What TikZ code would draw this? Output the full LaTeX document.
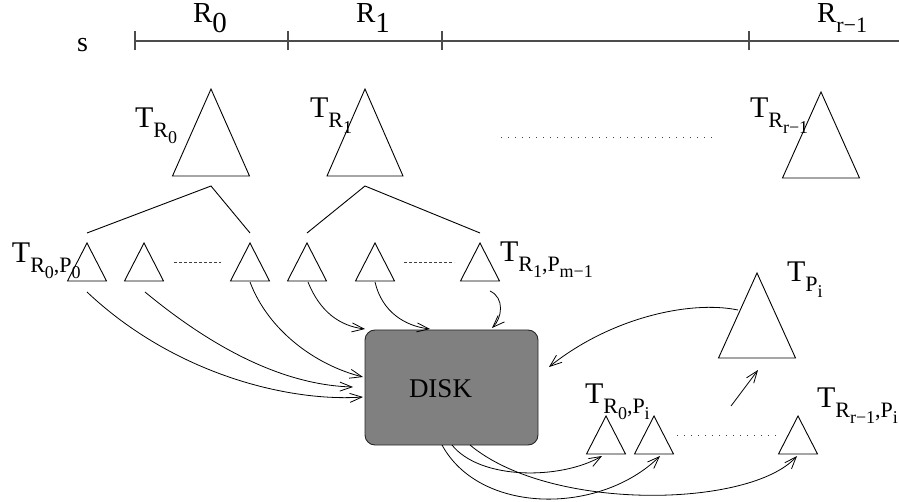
\documentclass[tikz,border=0pt]{standalone}
\usepackage{fontspec}
\setmainfont{Liberation Serif}
\usetikzlibrary{arrows.meta}

% label helpers: big letter with lowered subscript, and a further lowered sub-subscript
\newcommand\Tsub[2]{{\fontsize{30}{30}\selectfont #1}\raisebox{-10pt}{\fontsize{22}{22}\selectfont #2}}
\newcommand\lowsub[1]{\raisebox{-6pt}{\fontsize{18}{18}\selectfont #1}}
\newcommand\Rsub[2]{{\fontsize{29}{29}\selectfont R\raisebox{-10pt}{\fontsize{#1}{#1}\selectfont #2}}}

% triangle: name, apex x, apex y, half width, height
\newcommand\tri[5]{%
  \coordinate (#1) at (#2,#3);
  \draw[trione] (#2,#3) -- ++(-#4,#5) -- ++(2*#4,0) -- cycle;}

\begin{document}
\begin{tikzpicture}[x=1pt,y=-1pt,
  trione/.style={line width=0.9pt, line join=miter},
  lbl/.style={anchor=base west, inner sep=0pt, outer sep=0pt},
  link/.style={-{Straight Barb[length=12pt,width=9pt]}, line width=0.8pt},
  treeline/.style={line width=0.9pt},
  axisline/.style={draw=black!70, line width=1.3pt},
  dots/.style={draw=black!75, line width=0.9pt, dash pattern=on 1pt off 6pt},
  dashes/.style={draw=black!75, line width=0.9pt, dash pattern=on 3pt off 2pt},
  diskbox/.style={draw=black!85, fill=black!50, rounded corners=10pt,
    minimum width=173pt, minimum height=115pt, line width=0.9pt, inner sep=0pt}]

\useasboundingbox (0,0) rectangle (899,502);

% ---- time axis with the R ranges ----
\node[lbl, font=\fontsize{28}{28}\selectfont] (s) at (77,52) {s};
\coordinate (ax0) at (135,41);
\coordinate (ax1) at (288,41);
\coordinate (ax2) at (442,41);
\coordinate (ax3) at (749,41);
\coordinate (axend) at (899,41);
\draw[axisline] (ax0) -- (axend);
\foreach \c in {ax0,ax1,ax2,ax3}
  \draw[axisline] ([yshift=-9.5pt]\c) -- ([yshift=9.5pt]\c);
\node[lbl] (r0) at (193,23) {\Rsub{29}{0}};
\node[lbl] (r1) at (356,23) {\Rsub{29}{1}};
\node[lbl] (rr) at (817,23) {\Rsub{22}{r−1}};

% ---- range trees ----
\tri{TR0}{211}{89}{38.5}{87}
\tri{TR1}{365}{89}{38}{87}
\tri{TRr}{821}{92}{38.5}{86}
\node[lbl] (lTR0) at (135,128) {\Tsub{T}{R\lowsub{0}}};
\node[lbl] (lTR1) at (310,118) {\Tsub{T}{R\lowsub{1}}};
\node[lbl] (lTRr) at (750,118) {\Tsub{T}{R\lowsub{r−1}}};
\draw[dots] (501,137) -- (718,137);

% ---- partition trees of each range ----
\tri{s1}{87}{243}{19.5}{38}
\tri{s2}{144}{243}{19.5}{38}
\tri{s3}{250}{243}{19.5}{38}
\tri{s4}{307}{243}{19.5}{38}
\tri{s5}{375}{243}{19.5}{38}
\tri{s6}{480}{243}{19.5}{38}
\draw[dashes] (174,262) -- (221,262);
\draw[dashes] (404,262) -- (454,262);

\coordinate (j0) at (211,186);
\coordinate (j1) at (365,186);
\draw[treeline] (87,233) -- (j0) -- (250,233);
\draw[treeline] (307,233) -- (j1) -- (480,233);

\node[lbl] (lP0) at (12,263) {\Tsub{T}{R\lowsub{0},P\lowsub{0}}};
\node[lbl] (lPm) at (500,262) {\Tsub{T}{R\lowsub{1},P\lowsub{m−1}}};

% ---- disk ----
\node[diskbox] (disk) at (451.5,387.5) {};
\node[lbl, font=\fontsize{27}{27}\selectfont] (disktext) at (409,397) {DISK};

% writing the partition trees out
\coordinate (o1) at (87,292);
\coordinate (o2) at (145,292);
\coordinate (o3) at (250,282);
\coordinate (o4) at (308,282);
\coordinate (o5) at (375,282);
\coordinate (o6) at (490,291);
\coordinate (i1) at (363,397);
\coordinate (i2) at (353,387);
\coordinate (i3) at (363,377);
\coordinate (i4) at (365,329);
\coordinate (i5) at (430,329);
\coordinate (i6) at (492,328);
\draw[link] (o1) .. controls (175,375) and (290,402) .. (i1);
\draw[link] (o2) .. controls (215,350) and (285,385) .. (i2);
\draw[link] (o3) .. controls (268,330) and (315,365) .. (i3);
\draw[link] (o4) .. controls (320,312) and (340,326) .. (i4);
\draw[link] (o5) .. controls (382,312) and (405,326) .. (i5);
\draw[link] (o6) .. controls (505,298) and (502,318) .. (i6);

% ---- merged tree of partition P_i ----
\tri{TP}{757}{273}{38.5}{85}
\node[lbl] (lTP) at (787,282) {\Tsub{T}{P\lowsub{i}}};
\coordinate (tpout) at (738,310);
\coordinate (tpin) at (549,367);
\draw[link] (tpout) .. controls (690,300) and (610,318) .. (tpin);

\coordinate (up0) at (731,406);
\coordinate (up1) at (758,370);
\draw[link] (up0) -- (up1);

% ---- pieces of partition P_i read back ----
\tri{b1}{606}{416}{19.5}{38}
\tri{b2}{654}{416}{19.5}{38}
\tri{b3}{798}{416}{19.5}{38}
\draw[dots] (677,435) -- (777,435);
\node[lbl] (lb1) at (585,403) {\Tsub{T}{R\lowsub{0},P\lowsub{i}}};
\node[lbl] (lb3) at (817,407) {\Tsub{T}{R\lowsub{r−1},P\lowsub{i}}};

\coordinate (q1) at (452,445);
\coordinate (q2) at (442,445);
\coordinate (q3) at (470,445);
\coordinate (e1) at (602,456);
\coordinate (e2) at (660,456);
\coordinate (e3) at (797,456);
\draw[link] (q1) .. controls (480,480) and (560,480) .. (e1);
\draw[link] (q2) .. controls (480,515) and (600,515) .. (e2);
\draw[link] (q3) .. controls (550,512) and (750,508) .. (e3);

\end{tikzpicture}
\end{document}
